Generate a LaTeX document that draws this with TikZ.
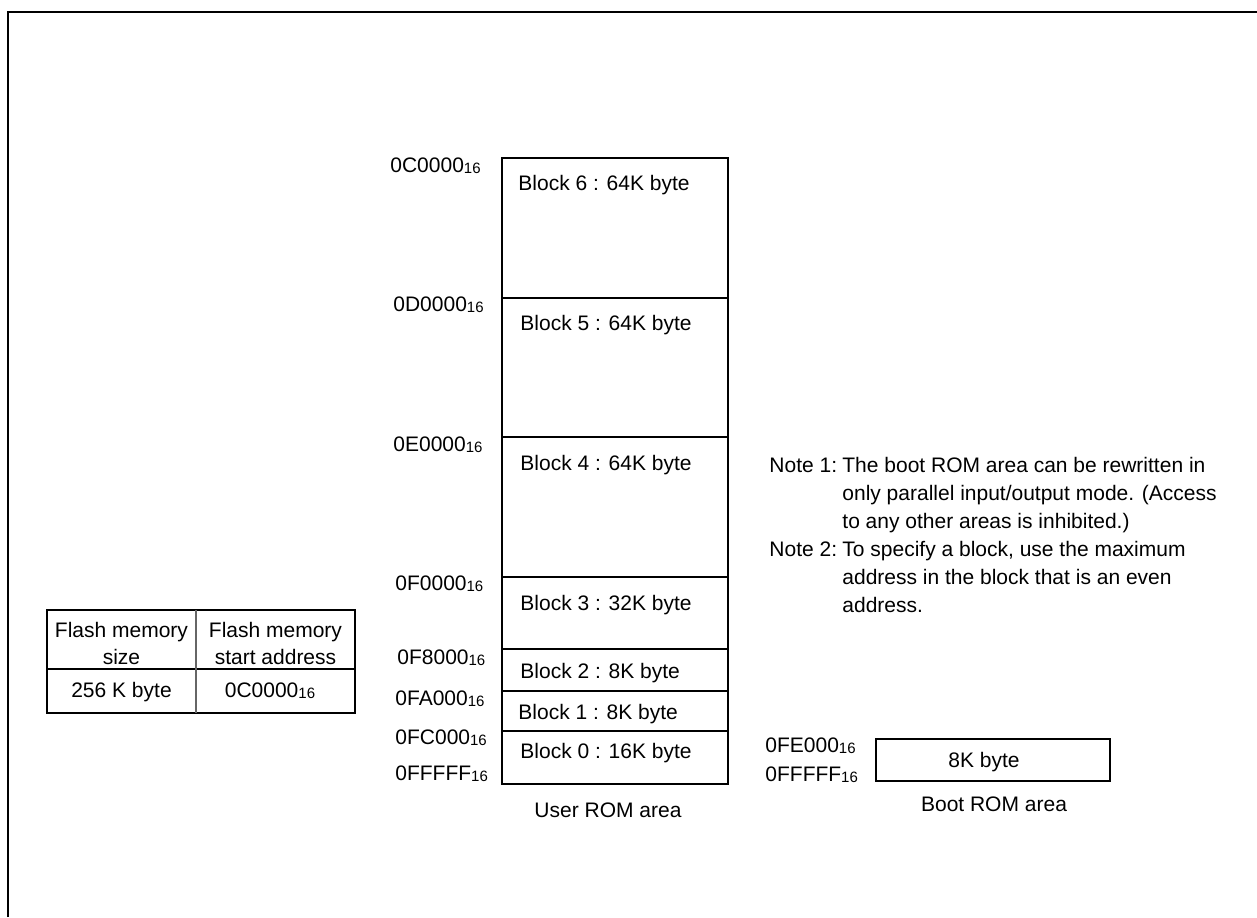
\documentclass[tikz,border=0pt]{standalone}
\usepackage{fontspec}
\setmainfont{Liberation Sans}
\newcommand\hx[1]{#1{\fontsize{7.5}{8}\selectfont\raisebox{-0.6pt}{16}}}
\tikzset{
  px/.style={x=0.5pt,y=-0.5pt},
  txt/.style={inner sep=0pt,font=\fontsize{10.5}{14}\selectfont,anchor=base},
  lt/.style={txt,anchor=base west},
  boxline/.style={draw,line width=0.75pt},
}
\begin{document}
\begin{tikzpicture}[px]
\useasboundingbox (0,0) rectangle (1257,917);
% frame
\draw[line width=1.1pt] (8,917) -- (8,12) -- (1257,12);
% user ROM area
\draw[boxline] (502,158) rectangle (728,784);
\foreach \y in {298,437,577,649,691,731}{\draw[line width=0.75pt] (502,\y) -- (728,\y);}
\node[lt] (a0) at (390,172) {\hx{0C0000}};
\node[lt] (a1) at (393,311) {\hx{0D0000}};
\node[lt] (a2) at (393,451) {\hx{0E0000}};
\node[lt] (a3) at (395,590) {\hx{0F0000}};
\node[lt] (a4) at (397,664) {\hx{0F8000}};
\node[lt] (a5) at (395,705) {\hx{0FA000}};
\node[lt] (a6) at (395,744) {\hx{0FC000}};
\node[lt] (a7) at (395,780) {\hx{0FFFFF}};
\node[lt] (b6) at (518,190) {Block 6 : 64K byte};
\node[lt] (b5) at (520,330) {Block 5 : 64K byte};
\node[lt] (b4) at (520,470) {Block 4 : 64K byte};
\node[lt] (b3) at (520,610) {Block 3 : 32K byte};
\node[lt] (b2) at (520,678) {Block 2 : 8K byte};
\node[lt] (b1) at (518,719) {Block 1 : 8K byte};
\node[lt] (b0) at (520,758) {Block 0 : 16K byte};
\node[txt] (user) at (608,817) {User ROM area};
% table
\draw[boxline] (47,610) rectangle (355,713);
\draw[line width=0.75pt] (47,669) -- (355,669);
\draw[line width=0.6pt,black!60] (196,610) -- (196,713);
\node[txt] (t1) at (121.5,637) {Flash memory};
\node[txt] (t2) at (121.5,664) {size};
\node[txt] (t3) at (275.5,637) {Flash memory};
\node[txt] (t4) at (275.5,664) {start address};
\node[txt] (t5) at (121.5,697) {256 K byte};
\node[txt] (t6) at (270,697) {\hx{0C0000}};
% notes
\node[lt] (n1) at (769,472) {Note 1:};
\node[lt] (n1a) at (842,472) {The boot ROM area can be rewritten in};
\node[lt] (n1b) at (842,500) {only parallel input/output mode. (Access};
\node[lt] (n1c) at (842,528) {to any other areas is inhibited.)};
\node[lt] (n2) at (769,556) {Note 2:};
\node[lt] (n2a) at (842,556) {To specify a block, use the maximum};
\node[lt] (n2b) at (842,584) {address in the block that is an even};
\node[lt] (n2c) at (842,612) {address.};
% boot ROM area
\draw[boxline] (876,739) rectangle (1110,781);
\node[txt] (boot) at (984,767) {8K byte};
\node[lt] (c0) at (765,752) {\hx{0FE000}};
\node[lt] (c1) at (765,781) {\hx{0FFFFF}};
\node[txt] (bootl) at (994,811) {Boot ROM area};
\end{tikzpicture}
\end{document}
